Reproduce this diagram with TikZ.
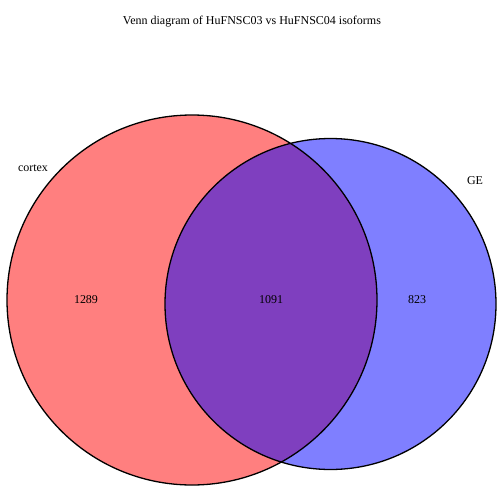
\documentclass[tikz,border=0pt]{standalone}
\usepackage{fontspec}
\setmainfont{Liberation Serif}
\begin{document}
\begin{tikzpicture}[x=1pt,y=-1pt,
  lbl/.style={font=\fontsize{12}{14}\selectfont, inner sep=0pt},
  setA/.style={fill={rgb,255:red,255;green,0;blue,0}, fill opacity=0.5},
  setB/.style={fill={rgb,255:red,0;green,0;blue,255}, fill opacity=0.5},
  outline/.style={draw=black, line width=1.3pt}]
\useasboundingbox (0,0) rectangle (504,504);
\fill[white] (0,0) rectangle (504,504);
\fill[setA] (192,300) circle (185);
\fill[setB] (330.5,304) circle (165.5);
\draw[outline] (192,300) circle (185);
\draw[outline] (330.5,304) circle (165.5);
\node[lbl] (title) at (252,22) {Venn diagram of HuFNSC03 vs HuFNSC04 isoforms};
\node[lbl] (cortex) at (33,168) {cortex};
\node[lbl] (ge) at (475,181) {GE};
\node[lbl] (a) at (86,300) {1289};
\node[lbl] (ab) at (271,300) {1091};
\node[lbl] (b) at (417,300) {823};
\end{tikzpicture}
\end{document}
